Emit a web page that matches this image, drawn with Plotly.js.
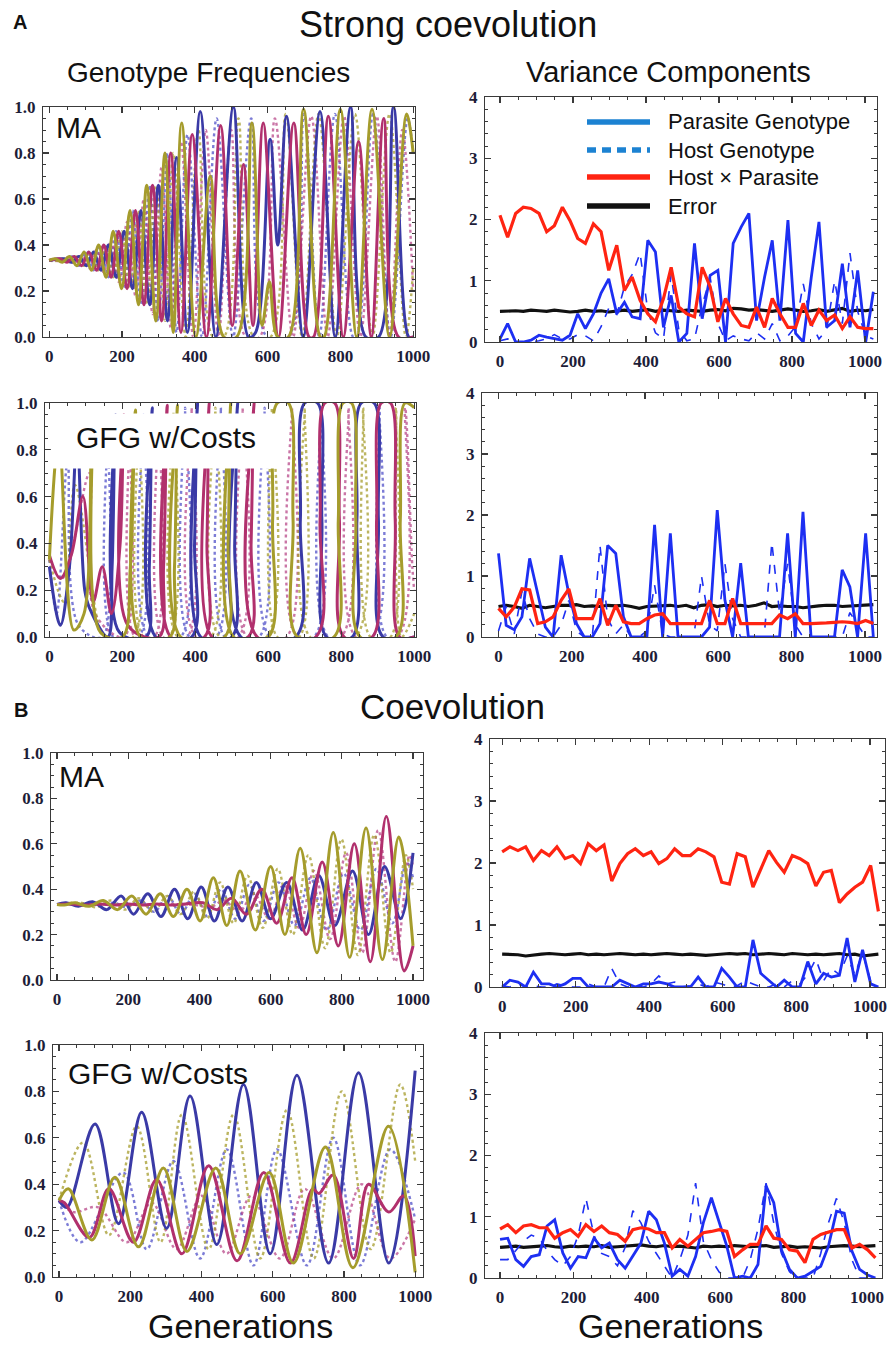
<!DOCTYPE html>
<html><head><meta charset="utf-8">
<script src="https://cdn.plot.ly/plotly-3.0.1.min.js"></script>
<style>html,body{margin:0;padding:0;background:#fff;}#chart{width:887px;height:1350px;}</style>
</head><body><div id="chart"></div>
<script>
// ---------- Left panels: genotype frequencies (extrema) ----------
// A / MA
const A_MA_blue_x = [0,42,62,82,102,122,142,163,184,206,229,252,276,300,325,350,380,415,458,506,548,567,607,628,652,698,744,786,828,870,905,946,988,1000];
const A_MA_blue_y = [0.333,0.34,0.325,0.35,0.31,0.37,0.29,0.40,0.26,0.46,0.21,0.55,0.14,0.66,0.07,0.78,0.02,0.98,0.0,1.0,0.0,0.02,0.86,0.40,0.96,0.0,0.98,0.0,1.0,0.0,0.0,1.0,0.0,0.0];
const A_MA_mag_x = [0,29,49,69,89,109,130,150,170,191,214,237,260,284,309,334,362,393,432,471,503,534,560,588,630,672,714,726,767,808,850,885,919,960,1000];
const A_MA_mag_y = [0.333,0.34,0.325,0.35,0.31,0.37,0.29,0.40,0.26,0.46,0.21,0.55,0.14,0.66,0.07,0.80,0.02,0.88,0.0,0.92,0.05,0.75,0.05,0.93,0.0,0.93,0.0,0.0,0.96,0.0,0.85,0.0,0.95,0.0,0.0];
const A_MA_oli_x = [0,16,36,56,76,96,116,136,156,176,199,222,245,268,293,318,341,364,403,443,480,515,557,585,605,628,657,699,745,755,800,845,887,935,982,1000];
const A_MA_oli_y = [0.333,0.34,0.325,0.35,0.31,0.37,0.29,0.40,0.26,0.46,0.21,0.55,0.14,0.66,0.07,0.80,0.02,0.93,0.0,0.70,0.0,0.0,0.93,0.05,0.24,0.0,0.0,0.99,0.0,0.0,0.99,0.0,0.99,0.0,0.97,0.8];
const A_MA_dblue_x = [0,22,42,62,82,102,122,142,163,184,206,229,252,276,300,325,350,380,420,460,505,555,598,657,700,742,785,835,845,890,938,985,1000];
const A_MA_dblue_y = [0.333,0.34,0.325,0.35,0.31,0.37,0.29,0.40,0.26,0.46,0.21,0.55,0.14,0.66,0.07,0.80,0.02,0.88,0.0,0.95,0.0,0.95,0.0,0.0,0.97,0.0,0.97,0.0,0.0,0.97,0.0,0.95,0.8];
const A_MA_dmag_x = [0,9,29,49,69,89,109,130,150,170,191,214,237,260,284,309,334,362,396,430,465,500,540,578,620,670,720,765,810,855,900,935,970,1000];
const A_MA_dmag_y = [0.333,0.335,0.33,0.345,0.32,0.355,0.30,0.38,0.28,0.42,0.24,0.50,0.18,0.60,0.10,0.74,0.04,0.85,0.0,0.90,0.0,0.90,0.0,0.0,0.95,0.0,0.96,0.0,0.96,0.0,0.96,0.0,0.90,0.2];
const A_MA_doli_x = [0,16,36,56,76,96,116,136,156,176,199,222,245,268,293,318,341,375,410,450,480,520,562,608,650,695,740,790,840,888,935,980,1000];
const A_MA_doli_y = [0.333,0.33,0.34,0.325,0.35,0.31,0.37,0.29,0.40,0.26,0.46,0.21,0.55,0.14,0.66,0.07,0.80,0.0,0.90,0.0,0.0,0.95,0.0,0.0,0.97,0.0,0.97,0.0,0.97,0.0,0.97,0.0,0.3];

// A / GFG w/Costs
const A_GFG_blue_x = [0,30,55,76,97,111,160,172,181,192,265,274,282,292,390,398,406,415,500,508,516,525,675,688,700,735,747,760,830,843,855,890,902,915,1000];
const A_GFG_blue_y = [0.30,0.05,0.3,0.85,0.2,0.12,0.0,0.3,0.95,0.02,0.0,0.3,0.98,0.0,0.0,0.4,1.0,0.0,0.0,0.4,1.0,0.0,0.0,0.5,1.0,1.0,0.5,0.0,0.0,0.5,1.0,1.0,0.5,0.0,0.0];
const A_GFG_mag_x = [0,30,60,92,120,145,170,194,204,215,300,313,323,333,425,432,438,446,545,553,561,570,730,742,755,782,795,808,885,897,910,935,948,960,1000];
const A_GFG_mag_y = [0.35,0.25,0.35,0.60,0.15,0.3,0.1,0.4,0.95,0.05,0.0,0.3,0.99,0.0,0.0,0.4,1.0,0.0,0.0,0.4,1.0,0.0,0.0,0.5,1.0,1.0,0.5,0.0,0.0,0.5,1.0,1.0,0.5,0.0,0.0];
const A_GFG_oli_x = [0,26,67,95,117,140,200,222,236,250,330,343,351,360,480,490,497,505,600,612,625,655,668,680,780,792,805,828,840,852,950,962,975,1000];
const A_GFG_oli_y = [0.33,0.85,0.03,0.1,0.90,0.02,0.0,0.3,0.97,0.0,0.0,0.3,0.99,0.0,0.0,0.4,1.0,0.0,0.0,0.5,1.0,1.0,0.5,0.0,0.0,0.5,1.0,1.0,0.5,0.0,0.0,0.5,1.0,0.98];
const A_GFG_dblue_x = [0,20,50,80,145,160,175,245,258,271,360,372,384,458,470,482,575,590,605,725,745,765,885,905,925,1000];
const A_GFG_dblue_y = [0.33,0.1,0.75,0.05,0.0,0.9,0.0,0.0,0.95,0.0,0.0,0.98,0.0,0.0,0.98,0.0,0.0,0.98,0.0,0.0,0.98,0.0,0.0,0.98,0.0,0.0];
const A_GFG_dmag_x = [0,35,110,125,205,220,235,288,300,312,378,390,402,518,530,542,650,665,680,800,820,840,955,975,995,1000];
const A_GFG_dmag_y = [0.33,0.25,0.7,0.1,0.0,0.9,0.0,0.0,0.95,0.0,0.0,0.98,0.0,0.0,0.98,0.0,0.0,0.98,0.0,0.0,0.98,0.0,0.0,0.98,0.3,0.2];
const A_GFG_doli_x = [0,40,70,135,150,230,245,258,328,340,352,443,455,467,595,610,625,685,700,715,840,860,880,935,950,965,1000];
const A_GFG_doli_y = [0.33,0.15,0.65,0.05,0.0,0.0,0.92,0.0,0.0,0.96,0.0,0.0,0.98,0.0,0.0,0.98,0.0,0.0,0.98,0.0,0.0,0.98,0.0,0.0,0.98,0.0,0.1];

// B / MA
const B_MA_blue_x = [0,25,60,100,140,180,215,255,292,330,367,405,442,480,520,560,600,645,690,735,780,830,875,920,965,1000];
const B_MA_blue_y = [0.333,0.34,0.325,0.345,0.31,0.37,0.29,0.38,0.28,0.40,0.27,0.41,0.26,0.41,0.26,0.43,0.27,0.43,0.22,0.46,0.24,0.48,0.20,0.50,0.27,0.56];
const B_MA_mag_x = [0,40,80,120,160,200,240,280,320,360,410,450,490,532,575,617,660,700,745,790,835,880,925,975,1000];
const B_MA_mag_y = [0.333,0.335,0.33,0.335,0.33,0.335,0.33,0.335,0.33,0.335,0.34,0.31,0.36,0.29,0.40,0.25,0.45,0.20,0.52,0.15,0.60,0.08,0.72,0.04,0.15];
const B_MA_oli_x = [0,20,50,90,130,170,210,250,290,327,365,402,439,477,514,557,600,640,683,730,776,822,868,914,960,1000];
const B_MA_oli_y = [0.333,0.33,0.34,0.325,0.35,0.31,0.37,0.29,0.38,0.28,0.40,0.26,0.45,0.24,0.48,0.22,0.50,0.20,0.58,0.12,0.65,0.10,0.67,0.09,0.63,0.15];
const B_MA_dblue_x = [0,80,120,160,197,235,273,311,348,386,423,461,500,540,580,622,667,712,757,805,852,897,942,982,1000];
const B_MA_dblue_y = [0.333,0.335,0.33,0.34,0.32,0.35,0.30,0.37,0.29,0.38,0.28,0.40,0.27,0.42,0.26,0.43,0.24,0.45,0.22,0.47,0.22,0.49,0.25,0.52,0.45];
const B_MA_dmag_x = [0,100,200,300,390,430,470,511,553,596,638,680,722,767,812,857,902,950,990,1000];
const B_MA_dmag_y = [0.333,0.335,0.33,0.335,0.33,0.32,0.35,0.30,0.38,0.27,0.42,0.23,0.48,0.18,0.56,0.12,0.66,0.08,0.55,0.50];
const B_MA_doli_x = [0,70,110,150,190,230,270,310,347,385,421,458,496,535,578,620,662,706,753,799,845,891,937,980,1000];
const B_MA_doli_y = [0.333,0.34,0.32,0.35,0.31,0.36,0.30,0.37,0.29,0.39,0.27,0.43,0.25,0.46,0.23,0.49,0.20,0.55,0.14,0.62,0.11,0.64,0.12,0.55,0.40];

// B / GFG w/Costs
const B_GFG_blue_x = [0,22,101,167,232,302,368,443,518,593,668,757,841,926,1000];
const B_GFG_blue_y = [0.33,0.30,0.66,0.23,0.71,0.21,0.78,0.14,0.83,0.10,0.87,0.06,0.88,0.06,0.89];
const B_GFG_mag_x = [0,15,85,140,209,274,345,420,500,575,650,712,730,770,827,869,926,968,1000];
const B_GFG_mag_y = [0.33,0.32,0.17,0.38,0.15,0.42,0.10,0.48,0.07,0.45,0.06,0.38,0.36,0.44,0.08,0.40,0.28,0.35,0.09];
const B_GFG_oli_x = [0,26,92,157,223,293,359,440,509,590,658,748,825,925,1000];
const B_GFG_oli_y = [0.33,0.38,0.16,0.43,0.13,0.47,0.11,0.47,0.10,0.45,0.06,0.56,0.04,0.65,0.02];
const B_GFG_dblue_x = [0,60,180,246,321,396,471,546,612,696,770,845,930,1000];
const B_GFG_dblue_y = [0.33,0.15,0.45,0.12,0.50,0.08,0.55,0.05,0.55,0.05,0.60,0.05,0.55,0.25];
const B_GFG_dmag_x = [0,40,110,190,260,330,400,470,540,620,690,770,850,930,1000];
const B_GFG_dmag_y = [0.33,0.28,0.30,0.15,0.32,0.12,0.35,0.10,0.35,0.08,0.38,0.08,0.40,0.08,0.25];
const B_GFG_doli_x = [0,68,140,218,285,345,420,490,565,640,715,794,875,958,1000];
const B_GFG_doli_y = [0.33,0.58,0.18,0.65,0.15,0.70,0.12,0.70,0.08,0.72,0.08,0.80,0.12,0.83,0.50];

// ---------- Right panels: variance components ----------
const gens = [0,21,43,64,85,107,128,149,171,192,213,234,256,277,298,320,341,362,384,405,426,448,469,490,512,533,554,576,597,618,639,661,682,703,725,746,767,789,810,831,853,874,895,917,938,959,980,1002,1023];

const A_MA_parasite = [0.05,0.30,0.0,0.0,0.03,0.11,0.08,0.05,0.03,0.11,0.46,0.22,0.46,0.80,1.03,0.46,0.65,0.41,0.38,1.66,1.47,0.24,0.76,0.0,0.14,1.61,0.38,1.09,1.17,0.0,1.61,1.88,2.10,0.35,1.06,1.66,0.35,1.99,0.14,0.0,1.06,1.96,0.24,0.35,1.28,0.24,1.17,0.0,0.82];
const A_MA_host = [0.02,0.05,0.0,0.0,0.0,0.02,0.05,0.12,0.05,0.05,0.12,0.10,0.02,0.25,0.55,0.45,0.90,1.10,1.45,0.50,0.15,0.05,1.10,0.20,0.02,0.05,0.60,1.05,0.30,0.02,0.10,0.05,0.02,0.15,0.05,0.30,0.02,0.10,0.25,0.95,0.30,0.05,0.20,1.00,0.30,1.45,0.50,0.10,0.05];
const A_MA_hxp = [2.07,1.71,2.10,2.20,2.18,2.10,1.80,1.90,2.20,1.98,1.69,1.61,1.93,1.80,1.17,1.58,0.84,1.06,0.68,0.46,0.33,0.71,1.22,0.57,0.46,0.41,1.22,0.90,0.33,0.71,0.46,0.27,0.24,0.57,0.24,0.71,0.46,0.24,0.24,0.63,0.27,0.52,0.35,0.44,0.22,0.41,0.24,0.22,0.22];
const A_MA_error = [0.50,0.51,0.51,0.50,0.52,0.51,0.50,0.52,0.50,0.49,0.50,0.52,0.50,0.51,0.49,0.51,0.52,0.50,0.51,0.53,0.50,0.52,0.51,0.50,0.52,0.51,0.50,0.52,0.53,0.51,0.55,0.54,0.52,0.53,0.51,0.50,0.52,0.54,0.52,0.50,0.51,0.53,0.50,0.52,0.55,0.50,0.52,0.51,0.53];

const A_GFG_parasite = [1.37,0.19,0.12,0.33,1.29,0.71,0.16,0.0,1.34,0.71,0.22,0.0,0.0,0.22,1.50,1.37,0.33,0.0,0.0,0.0,1.84,0.0,1.70,0.0,0.0,0.0,0.0,0.16,2.08,0.60,0.0,1.21,0.0,0.0,0.0,0.0,0.0,1.70,0.0,2.05,0.0,0.0,0.0,0.0,1.10,0.82,0.0,1.70,0.0];
const A_GFG_host = [0.10,0.50,0.05,0.75,0.30,0.05,0.0,0.0,0.20,0.60,0.10,0.0,0.0,1.50,0.30,0.05,0.20,0.0,0.0,0.10,0.85,0.05,0.0,0.0,0.0,0.0,1.00,0.20,0.10,1.20,0.30,0.0,0.0,0.0,0.0,1.55,0.40,1.20,0.20,0.0,0.0,0.0,0.0,0.0,0.0,0.40,0.20,0.0,0.0];
const A_GFG_hxp = [0.47,0.33,0.49,0.79,0.77,0.22,0.25,0.33,0.60,0.79,0.30,0.30,0.30,0.63,0.19,0.52,0.25,0.22,0.22,0.30,0.36,0.38,0.22,0.22,0.22,0.22,0.22,0.60,0.22,0.22,0.63,0.22,0.22,0.22,0.22,0.22,0.36,0.30,0.38,0.22,0.22,0.22,0.23,0.24,0.25,0.24,0.22,0.27,0.22];
const A_GFG_error = [0.50,0.52,0.50,0.47,0.52,0.50,0.48,0.50,0.52,0.52,0.53,0.50,0.51,0.50,0.52,0.51,0.52,0.50,0.47,0.50,0.51,0.52,0.52,0.50,0.52,0.48,0.52,0.53,0.50,0.52,0.51,0.52,0.50,0.52,0.56,0.50,0.51,0.50,0.50,0.48,0.50,0.51,0.52,0.52,0.50,0.51,0.52,0.52,0.53];

const B_MA_parasite = [0,0.11,0.08,0,0.24,0.05,0.05,0,0.05,0.14,0.14,0,0,0,0,0.11,0.05,0,0.05,0.05,0.08,0.05,0,0,0,0.16,0,0,0.30,0.16,0,0,0.76,0.22,0.11,0,0.11,0,0,0.41,0.05,0.22,0.16,0.19,0.79,0.08,0.60,0.05,0];
const B_MA_host = [0.02,0.0,0.05,0.0,0.02,0.0,0.0,0.05,0.02,0.0,0.0,0.05,0.0,0.0,0.30,0.05,0.0,0.02,0.0,0.05,0.18,0.05,0.08,0.0,0.02,0.05,0.0,0.08,0.05,0.0,0.02,0.10,0.05,0.0,0.0,0.05,0.0,0.10,0.05,0.20,0.45,0.10,0.30,0.20,0.50,0.20,0.55,0.10,0.05];
const B_MA_hxp = [2.18,2.26,2.20,2.26,2.04,2.20,2.12,2.26,2.07,2.12,1.99,2.31,2.20,2.29,1.71,1.99,2.15,2.23,2.12,2.18,1.99,2.07,2.23,2.12,2.12,2.23,2.18,2.10,1.69,1.66,2.15,2.10,1.61,1.90,2.20,2.01,1.85,2.12,2.07,1.99,1.63,1.85,1.88,1.36,1.50,1.61,1.69,1.96,1.22];
const B_MA_error = [0.53,0.53,0.52,0.50,0.52,0.53,0.54,0.53,0.52,0.53,0.54,0.52,0.53,0.52,0.53,0.54,0.53,0.52,0.53,0.52,0.53,0.54,0.53,0.52,0.53,0.52,0.51,0.52,0.53,0.54,0.53,0.54,0.52,0.53,0.54,0.53,0.52,0.54,0.53,0.52,0.53,0.52,0.53,0.54,0.52,0.53,0.50,0.52,0.53];

const B_GFG_parasite = [0.63,0.65,0.30,0.19,0.35,0.38,0.85,0.95,0.41,0.16,0.35,0.33,0.65,0.49,0.57,0.30,0.16,0.35,0.57,1.09,0.95,0.57,0.03,0.14,0.03,0.35,0.90,1.31,0.90,0.52,0,0.03,0,0.22,1.50,1.23,0.46,0.14,0,0.03,0.11,0.19,0.52,1.09,1.06,0.44,0.14,0.05,0];
const B_GFG_host = [0.30,0.30,0.45,0.60,0.70,0.65,0.45,0.30,0.20,0.35,0.70,1.30,0.70,0.40,0.35,0.20,0.50,1.10,0.90,0.60,0.40,0.20,0.0,0.30,0.70,1.55,0.60,0.30,0.10,0.0,0.0,0.0,0.30,0.80,1.55,0.90,0.40,0.10,0.0,0.0,0.0,0.40,0.90,1.30,0.90,0.30,0.0,0.0,0.0];
const B_GFG_hxp = [0.80,0.87,0.74,0.85,0.87,0.82,0.82,0.65,0.74,0.79,0.68,0.87,0.76,0.85,0.74,0.71,0.60,0.79,0.82,0.80,0.74,0.74,0.49,0.63,0.52,0.63,0.74,0.76,0.79,0.76,0.35,0.46,0.55,0.55,0.85,0.65,0.63,0.46,0.44,0.25,0.63,0.71,0.75,0.79,0.79,0.49,0.55,0.46,0.33];
const B_GFG_error = [0.50,0.51,0.52,0.50,0.51,0.52,0.53,0.51,0.50,0.52,0.51,0.52,0.51,0.53,0.50,0.51,0.52,0.53,0.54,0.52,0.51,0.53,0.51,0.52,0.50,0.49,0.52,0.51,0.52,0.51,0.53,0.52,0.51,0.52,0.53,0.50,0.51,0.52,0.50,0.51,0.50,0.49,0.51,0.52,0.53,0.52,0.51,0.52,0.53];

// ---------- Text ----------
const legendLabels = ['Parasite Genotype','Host Genotype','Host \u00d7 Parasite','Error'];

// ---------- Build ----------
const W = 887, H = 1350;
const C = {blue:'#3a3aa6', mag:'#b1306d', oli:'#a59c2c',
           dblue:'rgba(80,80,200,0.75)', dmag:'rgba(180,60,130,0.7)', doli:'rgba(165,156,44,0.75)',
           par:'#1d2ff2', red:'#ff2412', err:'#111111', leg:'#1c82d2'};
const traces = [];
function left(ax, x, y, color, dotted){
  traces.push({type:'scatter', mode:'lines', x:x, y:y, xaxis:ax===1?'x':'x'+ax, yaxis:ax===1?'y':'y'+ax, hoverinfo:'skip',
    line:{color:color, width: dotted?2.4:3, shape:'spline', smoothing:1, dash: dotted?'dot':'solid'}});
}
function right(ax, y, color, width, dash){
  traces.push({type:'scatter', mode:'lines', x:gens, y:y, xaxis:'x'+ax, yaxis:'y'+ax, hoverinfo:'skip',
    line:{color:color, width:width, dash:dash||'solid'}});
}
const leftSets = [
  [1,A_MA_dblue_x,A_MA_dblue_y,A_MA_dmag_x,A_MA_dmag_y,A_MA_doli_x,A_MA_doli_y,A_MA_blue_x,A_MA_blue_y,A_MA_mag_x,A_MA_mag_y,A_MA_oli_x,A_MA_oli_y],
  [3,A_GFG_dblue_x,A_GFG_dblue_y,A_GFG_dmag_x,A_GFG_dmag_y,A_GFG_doli_x,A_GFG_doli_y,A_GFG_blue_x,A_GFG_blue_y,A_GFG_mag_x,A_GFG_mag_y,A_GFG_oli_x,A_GFG_oli_y],
  [5,B_MA_dblue_x,B_MA_dblue_y,B_MA_dmag_x,B_MA_dmag_y,B_MA_doli_x,B_MA_doli_y,B_MA_blue_x,B_MA_blue_y,B_MA_mag_x,B_MA_mag_y,B_MA_oli_x,B_MA_oli_y],
  [7,B_GFG_dblue_x,B_GFG_dblue_y,B_GFG_dmag_x,B_GFG_dmag_y,B_GFG_doli_x,B_GFG_doli_y,B_GFG_blue_x,B_GFG_blue_y,B_GFG_mag_x,B_GFG_mag_y,B_GFG_oli_x,B_GFG_oli_y]];
leftSets.forEach(s=>{
  left(s[0],s[1],s[2],C.dblue,true); left(s[0],s[3],s[4],C.dmag,true); left(s[0],s[5],s[6],C.doli,true);
  left(s[0],s[7],s[8],C.blue,false); left(s[0],s[9],s[10],C.mag,false); left(s[0],s[11],s[12],C.oli,false);
});
[[2,A_MA_error,A_MA_host,A_MA_parasite,A_MA_hxp],[4,A_GFG_error,A_GFG_host,A_GFG_parasite,A_GFG_hxp],
 [6,B_MA_error,B_MA_host,B_MA_parasite,B_MA_hxp],[8,B_GFG_error,B_GFG_host,B_GFG_parasite,B_GFG_hxp]].forEach(p=>{
  right(p[0],p[1],C.err,3.2); right(p[0],p[2],C.par,1.6,'dash'); right(p[0],p[3],C.par,2.8); right(p[0],p[4],C.red,3.2);
});

const tickFont = {family:'Liberation Serif', size:17, weight:'bold', color:'#1d1d38'};
function axis(dom, rng, anchor, dt, mdt, fmt){
  return {domain:dom, range:rng, anchor:anchor, showgrid:false, zeroline:false, showline:true, mirror:'ticks',
    linecolor:'#3a3a3a', linewidth:1.2, ticks:'inside', ticklen:6, tickwidth:1.2, tickcolor:'#3a3a3a',
    tick0:0, dtick:dt, tickformat:fmt||'', tickfont:tickFont, ticklabelstandoff:3, fixedrange:true,
    minor:{dtick:mdt, tick0:0, ticks:'inside', ticklen:3, tickwidth:1, tickcolor:'#3a3a3a'}};
}
const xd = (a,b)=>[a/W,b/W];
const yd = (top,bot)=>[1-bot/H,1-top/H];
const panels = {
  1:{x:[43,415],  y:[107,337],  xr:[-17,1005], yr:[0,1], left:true},
  2:{x:[485,877], y:[97,342],   xr:[-41,1033], yr:[0,4], left:false},
  3:{x:[45,416],  y:[403,637],  xr:[-12,1005], yr:[0,1], left:true},
  4:{x:[482,877], y:[393,637],  xr:[-45,1033], yr:[0,4], left:false},
  5:{x:[51,423],  y:[753,980],  xr:[-17,1028], yr:[0,1], left:true},
  6:{x:[490,885], y:[739,987],  xr:[-33,1041], yr:[0,4], left:false},
  7:{x:[53,423],  y:[1045,1277],xr:[-17,1022], yr:[0,1], left:true},
  8:{x:[485,882], y:[1033,1278],xr:[-41,1041], yr:[0,4], left:false}
};
const layout = {width:W, height:H, margin:{l:0,r:0,t:0,b:0}, paper_bgcolor:'#fff', plot_bgcolor:'#fff',
  showlegend:false, annotations:[], shapes:[]};
Object.keys(panels).forEach(k=>{
  const p = panels[k]; const s = k==='1'?'':k;
  layout['xaxis'+s] = axis(xd(p.x[0],p.x[1]), p.xr, 'y'+s, 200, 50);
  layout['yaxis'+s] = p.left ? axis(yd(p.y[0],p.y[1]), p.yr, 'x'+s, 0.2, 0.05, '.1f')
                             : axis(yd(p.y[0],p.y[1]), p.yr, 'x'+s, 1, 0.2, 'd');
});

function ann(px,py,text,size,opts){
  layout.annotations.push(Object.assign({xref:'paper', yref:'paper', x:px/W, y:1-py/H, text:text, showarrow:false,
    xanchor:'center', yanchor:'middle', font:{family:'Liberation Sans', size:size, color:'#111'}}, opts||{}));
}
ann(20,22,'<b>A</b>',20);
ann(448,24,'Strong coevolution',36);
ann(208,72,'Genotype Frequencies',28);
ann(668,72,'Variance Components',29);
ann(21,710,'<b>B</b>',20);
ann(452,706,'Coevolution',35);
ann(240,1326,'Generations',34);
ann(670,1326,'Generations',34);
ann(54,128,'MA',30,{xanchor:'left'});
ann(74,437,'GFG w/Costs',30,{xanchor:'left'});
ann(57,776,'MA',30,{xanchor:'left'});
ann(66,1073,'GFG w/Costs',30,{xanchor:'left'});
// white label box in panel 3
layout.shapes.push({type:'rect', xref:'x3', yref:'y3', x0:4, x1:643, y0:0.72, y1:0.955, fillcolor:'#ffffff', line:{width:0}, layer:'above'});
// legend drawn inside panel 2
const legRows = [122,150,177,206];
const legStyles = [{color:C.leg,width:5.5,dash:'solid'},{color:C.leg,width:5.5,dash:'9px,6px'},{color:C.red,width:5.5,dash:'solid'},{color:C.err,width:5.5,dash:'solid'}];
legRows.forEach((py,i)=>{
  layout.shapes.push({type:'line', xref:'paper', yref:'paper', x0:587/W, x1:650/W, y0:1-py/H, y1:1-py/H, line:legStyles[i], layer:'above'});
  ann(666,py,legendLabels[i],22,{xanchor:'left'});
});

Plotly.newPlot('chart', traces, layout, {staticPlot:true, displayModeBar:false});
</script></body></html>
